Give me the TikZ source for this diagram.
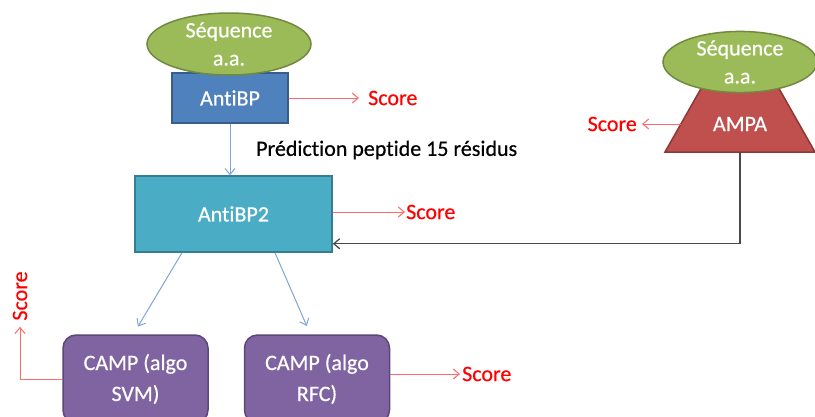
\documentclass[tikz,border=0pt]{standalone}
\usepackage{fontspec}
\setmainfont{Carlito}[Ligatures=NoCommon, FakeBold=0.5]
\usetikzlibrary{arrows.meta,shapes.geometric}
\definecolor{seqfill}{HTML}{9BBB59}
\definecolor{seqdraw}{HTML}{71893F}
\definecolor{bpfill}{HTML}{4F81BD}
\definecolor{bpdraw}{HTML}{385D8A}
\definecolor{bp2fill}{HTML}{4BACC6}
\definecolor{bp2draw}{HTML}{357D91}
\definecolor{ampafill}{HTML}{C0504D}
\definecolor{ampadraw}{HTML}{8C3836}
\definecolor{campfill}{HTML}{8064A2}
\definecolor{campdraw}{HTML}{5C4776}
\definecolor{scorered}{HTML}{FF0000}
\definecolor{scoreline}{HTML}{FF6B6B}
\definecolor{blueline}{HTML}{7FA6D6}
\definecolor{fbline}{HTML}{4A4A4A}
\tikzset{
  every node/.style={font=\fontsize{22}{28}\selectfont},
  seq/.style={ellipse, fill=seqfill, draw=seqdraw, line width=1.5pt, text=white,
    minimum width=164pt, minimum height=62pt, inner sep=0pt, align=center},
  seqb/.style={seq, minimum width=154pt, minimum height=58pt},
  bpbox/.style={rectangle, fill=bpfill, draw=bpdraw, line width=1.5pt, text=white,
    minimum width=116pt, minimum height=50pt},
  bp2box/.style={rectangle, fill=bp2fill, draw=bp2draw, line width=1.5pt, text=white,
    minimum width=197pt, minimum height=76pt},
  campbox/.style={rectangle, rounded corners=13pt, fill=campfill, draw=campdraw, line width=1.5pt,
    text=white, minimum width=145pt, minimum height=88pt, align=center,
    font=\fontsize{22}{31}\selectfont},
  ampashape/.style={fill=ampafill, draw=ampadraw, line width=1.5pt},
  score/.style={text=scorered, inner sep=0pt},
  scorearrow/.style={draw=scoreline, line width=1pt, -{Straight Barb[length=6pt,width=10pt]}},
  bluearrow/.style={draw=blueline, line width=1pt, -{Straight Barb[length=6pt,width=10pt]}},
  fbarrow/.style={draw=fbline, line width=1.3pt, -{Straight Barb[length=6pt,width=10pt]}},
}
\begin{document}
\begin{tikzpicture}[x=1pt,y=-1pt]
\clip (0,0) rectangle (815,416);
\fill[white] (0,0) rectangle (815,416);

% AntiBP branch
\node[bpbox] (antibp) at (230,98) {AntiBP};
\node[seq] (seq1) at (229,44) {Séquence\\a.a.};
\node[bp2box] (antibp2) at (233.5,214) {AntiBP2};
\node[anchor=west, inner sep=0pt] (pred) at (256,150) {Prédiction peptide 15 résidus};

% AMPA branch
\draw[ampashape] (665,152) -- (703,85) -- (777,85) -- (815,152) -- cycle;
\node[text=white] (ampa) at (740,124) {AMPA};
\coordinate (ampabot) at (740,152);
\coordinate (ampaleft) at (681,124);
\node[seqb] (seq2) at (740,62) {Séquence\\a.a.};

% CAMP boxes
\node[campbox] (svm) at (135.5,379) {CAMP (algo\\SVM)};
\node[campbox] (rfc) at (317,379) {CAMP (algo\\RFC)};

% Score labels
\node[score, anchor=west] (s1) at (368,98) {Score};
\node[score, anchor=west] (s2) at (406,212) {Score};
\node[score, anchor=east] (s3) at (637,124) {Score};
\node[score, rotate=90] (s4) at (20,296) {Score};
\node[score, anchor=west] (s5) at (462,374) {Score};

% connectors
\draw[bluearrow] (antibp.south) -- (antibp.south |- antibp2.north);
\draw[bluearrow, shorten >=9pt] ([xshift=-51.5pt]antibp2.south) -- ([xshift=-2.2pt]svm.north);
\draw[bluearrow, shorten >=9pt] ([xshift=41.5pt]antibp2.south) -- ([xshift=-6.6pt]rfc.north);
\draw[fbarrow] (ampabot) |- ([yshift=9pt]antibp2.south east);

\draw[scorearrow, shorten >=9pt] (antibp.east) -- (s1.west);
\draw[scorearrow, shorten >=1pt] (antibp2.east |- s2.west) -- (s2.west);
\draw[scorearrow, shorten >=5pt] (ampaleft) -- (s3.east);
\draw[scorearrow, shorten >=6pt] (svm.west) -| (s4.west);
\draw[scorearrow, shorten >=2pt] (rfc.east |- s5.west) -- (s5.west);
\end{tikzpicture}
\end{document}
